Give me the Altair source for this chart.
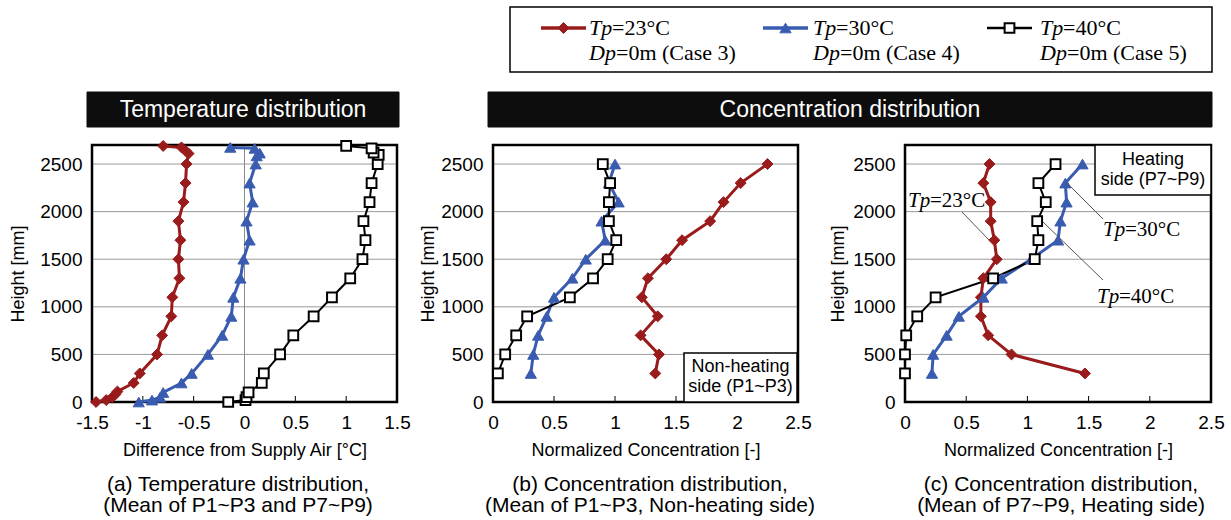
import altair as alt
import pandas as pd

# ---------------- data ----------------
SERIES = ["Tp=23°C", "Tp=30°C", "Tp=40°C"]
CASES = ["=0m (Case 3)", "=0m (Case 4)", "=0m (Case 5)"]
TP_RIGHT = ["=23°C", "=30°C", "=40°C"]

HEIGHT_TICKS = [0, 500, 1000, 1500, 2000, 2500]
GRID_H = [500, 1000, 1500, 2000, 2500]
TEMP_TICKS = [-1.5, -1, -0.5, 0, 0.5, 1, 1.5]
CONC_TICKS = [0, 0.5, 1, 1.5, 2, 2.5]
ZERO_LINE = [0]

# (a) temperature difference from supply air [degC] vs height [mm]
temp23_h = [0, 20, 50, 80, 110, 200, 300, 500, 700, 900, 1100, 1300, 1500, 1700, 1900,
            2100, 2300, 2500, 2610, 2640, 2675, 2690]
temp23_x = [-1.46, -1.36, -1.30, -1.27, -1.25, -1.09, -1.03, -0.86, -0.81, -0.72, -0.71,
            -0.64, -0.65, -0.63, -0.65, -0.60, -0.58, -0.57, -0.55, -0.58, -0.62, -0.80]
temp30_h = [0, 20, 50, 100, 200, 300, 500, 700, 900, 1100, 1300, 1500, 1700, 1900, 2100,
            2300, 2500, 2585, 2615, 2665, 2675]
temp30_x = [-1.04, -0.91, -0.83, -0.80, -0.62, -0.52, -0.36, -0.22, -0.13, -0.11, -0.04,
            -0.01, 0.05, 0.02, 0.08, 0.05, 0.11, 0.12, 0.15, 0.10, -0.14]
temp40_h = [0, 20, 50, 100, 200, 300, 500, 700, 900, 1100, 1300, 1500, 1700, 1900, 2100,
            2300, 2500, 2595, 2620, 2665, 2690]
temp40_x = [-0.16, 0.01, 0.02, 0.04, 0.17, 0.19, 0.35, 0.48, 0.68, 0.86, 1.04, 1.16, 1.19,
            1.17, 1.23, 1.25, 1.31, 1.32, 1.27, 1.25, 1.00]

# (b), (c) normalized concentration vs height
conc_h = [300, 500, 700, 900, 1100, 1300, 1500, 1700, 1900, 2100, 2300, 2500]
concb_23 = [1.33, 1.36, 1.21, 1.35, 1.22, 1.27, 1.42, 1.55, 1.78, 1.89, 2.03, 2.25]
concb_30 = [0.31, 0.33, 0.37, 0.44, 0.50, 0.65, 0.76, 0.92, 0.89, 1.03, 0.95, 1.00]
concb_40 = [0.04, 0.10, 0.19, 0.28, 0.63, 0.82, 0.94, 1.01, 0.95, 0.95, 0.96, 0.90]
concc_23 = [1.47, 0.87, 0.68, 0.62, 0.62, 0.64, 0.75, 0.73, 0.70, 0.70, 0.64, 0.69]
concc_30 = [0.22, 0.23, 0.34, 0.44, 0.64, 0.79, 1.03, 1.25, 1.27, 1.32, 1.31, 1.45]
concc_40 = [0.00, 0.00, 0.01, 0.10, 0.25, 0.72, 1.06, 1.09, 1.08, 1.15, 1.09, 1.23]

# ---------------- styles ----------------
LINE_COLORS = ["#9a1b1b", "#3a5cb0", "#000000"]
MARK_FILLS = ["#9a1b1b", "#3a5cb0", "#ffffff"]
MARK_SHAPES = ["diamond", "triangle-up", "square"]
LINE_WIDTHS = [3, 3, 2]
MARK_SIZES = [120, 125, 95]
MARK_STROKES = [1, 1, 2]
SANS = "Liberation Sans"
SERIF = "Liberation Serif"
PH = 257


def one():
    return alt.Data(values=[{"k": 0}])


def text(t, x, y, size, font=SANS, color="black", align="center", style="normal"):
    return alt.Chart(one()).mark_text(
        text=t, font=font, fontSize=size, color=color, align=align,
        baseline="middle", fontStyle=style
    ).encode(x=alt.value(x), y=alt.value(y))


def rect(x1, x2, y1, y2, fill="white", fill_opacity=1.0, stroke="black", sw=1.5):
    return alt.Chart(one()).mark_rect(
        fill=fill, fillOpacity=fill_opacity, stroke=stroke, strokeWidth=sw
    ).encode(x=alt.value(x1), x2=alt.value(x2), y=alt.value(y1), y2=alt.value(y2))


def seg(x1, y1, x2, y2, color="black", sw=1):
    return alt.Chart(one()).mark_rule(color=color, strokeWidth=sw).encode(
        x=alt.value(x1), y=alt.value(y1), x2=alt.value(x2), y2=alt.value(y2))


def panel(xs_list, hs_list, xdom, xr, xticks, xtitle, yoff, ytp):
    xsc = alt.Scale(domain=xdom, range=xr, nice=False, zero=False)
    ysc = alt.Scale(domain=[0, 2700], nice=False, zero=False)
    layers = []
    layers.append(
        alt.Chart(pd.DataFrame({"h": GRID_H})).mark_rule(color="#9a9a9a", strokeWidth=1).encode(
            y=alt.Y("h:Q", scale=ysc, axis=None), x=alt.value(xr[0]), x2=alt.value(xr[1]))
    )
    layers.append(
        alt.Chart(pd.DataFrame({"v": xticks[1:-1]})).mark_rule(color="black", strokeWidth=1).encode(
            x=alt.X("v:Q", scale=xsc, axis=None), y=alt.value(PH - 6), y2=alt.value(PH))
    )
    layers.append(rect(xr[0], xr[1], 0, PH, fill="white", fill_opacity=0, sw=2.5))
    xaxis = alt.Axis(values=xticks, orient="bottom", labelExpr="'' + datum.value",
                     domain=False, ticks=False, grid=False, labelFont=SANS, labelFontSize=19,
                     labelColor="black", labelPadding=11, labelFlush=False, labelOverlap=False,
                     title=xtitle, titleFont=SANS, titleFontSize=18, titleFontWeight="normal",
                     titleColor="black", titlePadding=9)
    yaxis = alt.Axis(values=HEIGHT_TICKS, orient="left", offset=yoff, domain=False, ticks=False,
                     labelExpr="'' + datum.value",
                     grid=False, labelFont=SANS, labelFontSize=19, labelColor="black",
                     labelPadding=10, labelFlush=False, labelOverlap=False,
                     title="Height [mm]", titleFont=SANS, titleFontSize=18,
                     titleFontWeight="normal", titleColor="black", titlePadding=ytp)
    for i, (xs, hs) in enumerate(zip(xs_list, hs_list)):
        df = pd.DataFrame({"x": xs, "h": hs})
        layers.append(
            alt.Chart(df).mark_line(color=LINE_COLORS[i], strokeWidth=LINE_WIDTHS[i]).encode(
                x=alt.X("x:Q", scale=xsc, axis=xaxis if i == 0 else None),
                y=alt.Y("h:Q", scale=ysc, axis=yaxis if i == 0 else None),
                order=alt.Order("h:Q"))
        )
    for i, (xs, hs) in enumerate(zip(xs_list, hs_list)):
        df = pd.DataFrame({"x": xs, "h": hs})
        layers.append(
            alt.Chart(df).mark_point(shape=MARK_SHAPES[i], size=MARK_SIZES[i], fill=MARK_FILLS[i],
                                     stroke=LINE_COLORS[i], strokeWidth=MARK_STROKES[i],
                                     opacity=1, fillOpacity=1).encode(
                x=alt.X("x:Q", scale=xsc, axis=None),
                y=alt.Y("h:Q", scale=ysc, axis=None))
        )
    return layers, xsc, ysc


layers = []

# panel (a)
la, xsa, ysa = panel([temp23_x, temp30_x, temp40_x], [temp23_h, temp30_h, temp40_h],
                     [-1.5, 1.5], [0, 305], TEMP_TICKS, "Difference from Supply Air [°C]", 0, 12)
zero = alt.Chart(pd.DataFrame({"v": ZERO_LINE})).mark_rule(color="#8a8a8a", strokeWidth=1).encode(
    x=alt.X("v:Q", scale=xsa, axis=None), y=alt.value(0), y2=alt.value(PH))
layers += [la[0], zero] + la[1:]

# panel (b)
lb, _, _ = panel([concb_23, concb_30, concb_40], [conc_h] * 3,
                 [0, 2.5], [401, 706], CONC_TICKS, "Normalized Concentration [-]", -401, 3)
layers += lb

# panel (c)
lc, _, _ = panel([concc_23, concc_30, concc_40], [conc_h] * 3,
                 [0, 2.5], [813, 1119], CONC_TICKS, "Normalized Concentration [-]", -813, 5)
layers += lc

# title bars
layers += [
    rect(-5, 307, -53, -18, fill="#0d0d0d", stroke="#0d0d0d", sw=1),
    text("Temperature distribution", 151, -35, 23, color="white"),
    rect(396, 1120, -53, -18, fill="#0d0d0d", stroke="#0d0d0d", sw=1),
    text("Concentration distribution", 758, -35, 23, color="white"),
]

# legend
layers.append(rect(418, 1120, -138, -73, sw=1.5))
icon_x = [449, 671, 895]
text_x = [497, 721, 948]
for i in range(3):
    layers.append(seg(icon_x[i], -117, icon_x[i] + 45, -117, color=LINE_COLORS[i], sw=LINE_WIDTHS[i] + 0.5))
    layers.append(
        alt.Chart(one()).mark_point(shape=MARK_SHAPES[i], size=MARK_SIZES[i], fill=MARK_FILLS[i],
                                    stroke=LINE_COLORS[i], strokeWidth=MARK_STROKES[i],
                                    opacity=1, fillOpacity=1).encode(
            x=alt.value(icon_x[i] + 22.5), y=alt.value(-117))
    )
    layers.append(text("Tp", text_x[i], -117, 22, font=SERIF, align="left", style="italic"))
    layers.append(text(TP_RIGHT[i], text_x[i] + 23, -117, 22, font=SERIF, align="left"))
    layers.append(text("Dp", text_x[i], -92, 22, font=SERIF, align="left", style="italic"))
    layers.append(text(CASES[i], text_x[i] + 27, -92, 22, font=SERIF, align="left"))

# side boxes
layers += [
    rect(592, 705, 208, PH, sw=1.5),
    text("Non-heating", 648.5, 222, 18),
    text("side (P1~P3)", 648.5, 242, 18),
    rect(1003, 1119, 0, 50, sw=1.5),
    text("Heating", 1061, 15, 18),
    text("side (P7~P9)", 1061, 35, 18),
]

# annotations in (c)
ann = [(816, 56, "=23°C"), (1011, 85, "=30°C"), (1005, 152, "=40°C")]
for x0, y0, rest in ann:
    layers.append(text("Tp", x0, y0, 21, font=SERIF, align="left", style="italic"))
    layers.append(text(rest, x0 + 22, y0, 21, font=SERIF, align="left"))
layers += [
    seg(870, 67, 897, 95, color="#555555", sw=1),
    seg(975, 38, 1011, 74, color="#555555", sw=1),
    seg(951, 77, 1011, 135, color="#555555", sw=1),
]

# captions
caps = [
    (146, "(a) Temperature distribution,", "(Mean of P1~P3 and P7~P9)"),
    (558, "(b) Concentration distribution,", "(Mean of P1~P3, Non-heating side)"),
    (969, "(c) Concentration distribution,", "(Mean of P7~P9, Heating side)"),
]
for cx, l1, l2 in caps:
    layers.append(text(l1, cx, 340, 21))
    layers.append(text(l2, cx, 361, 21))

chart = alt.layer(*layers).resolve_scale(x="independent", y="independent").properties(
    width=1119, height=257,
    padding={"left": 92, "top": 145, "right": 20, "bottom": 118},
    autosize=alt.AutoSizeParams(type="none"),
    background="white",
).configure_view(strokeWidth=0)

chart.save("out.html", embed_options={"renderer": "svg", "actions": False})
